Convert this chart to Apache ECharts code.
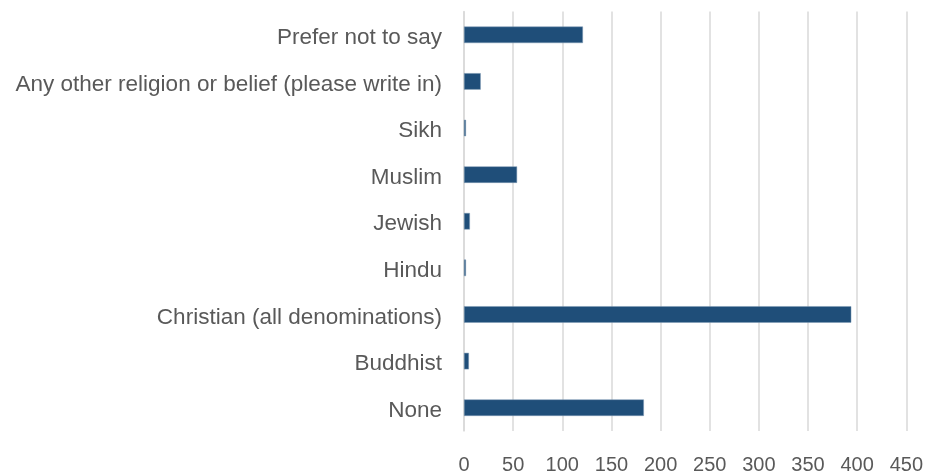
<!DOCTYPE html>
<html>
<head>
<meta charset="utf-8">
<script src="https://cdn.jsdelivr.net/npm/echarts@6/dist/echarts.min.js"></script>
<style>html,body{margin:0;padding:0;background:#fff;}#c{width:926px;height:475px;}</style>
</head>
<body>
<div id="c"></div>
<script>
const categories = ["None","Buddhist","Christian (all denominations)","Hindu","Jewish","Muslim","Sikh","Any other religion or belief (please write in)","Prefer not to say"];
const values = [183, 5, 394, 2, 6, 54, 2, 17, 121];
const xTicks = [0, 50, 100, 150, 200, 250, 300, 350, 400, 450];

const chart = echarts.init(document.getElementById('c'), null, {renderer:'canvas'});
chart.setOption({
  animation: false,
  backgroundColor: '#ffffff',
  grid: {left: 464, right: 19, top: 11.5, bottom: 39.5, containLabel: false},
  xAxis: {
    type: 'value', min: xTicks[0], max: xTicks[xTicks.length-1], interval: 50,
    axisLine: {show: false}, axisTick: {show: false},
    splitLine: {show: true, lineStyle: {color: '#d9d9d9', width: 1.5}},
    axisLabel: {color: '#595959', fontFamily: 'Liberation Sans', fontSize: 20, margin: 24}
  },
  yAxis: {
    type: 'category', data: categories,
    axisLine: {show: true, lineStyle: {color: '#d9d9d9', width: 1.5}},
    axisTick: {show: false},
    axisLabel: {
      color: '#595959', fontFamily: 'Liberation Sans', fontSize: 22.5, margin: 22,
      formatter: function (v) { return '{a|' + v + '}'; },
      rich: {a: {color: '#595959', fontFamily: 'Liberation Sans', fontSize: 22.5, padding: [6, 0, 0, 0]}}
    }
  },
  series: [{
    type: 'bar', data: values, barWidth: 16.5,
    itemStyle: {color: '#1F4E79', borderColor: '#7f9bb5', borderWidth: 0.5}
  }]
});
</script>
</body>
</html>
